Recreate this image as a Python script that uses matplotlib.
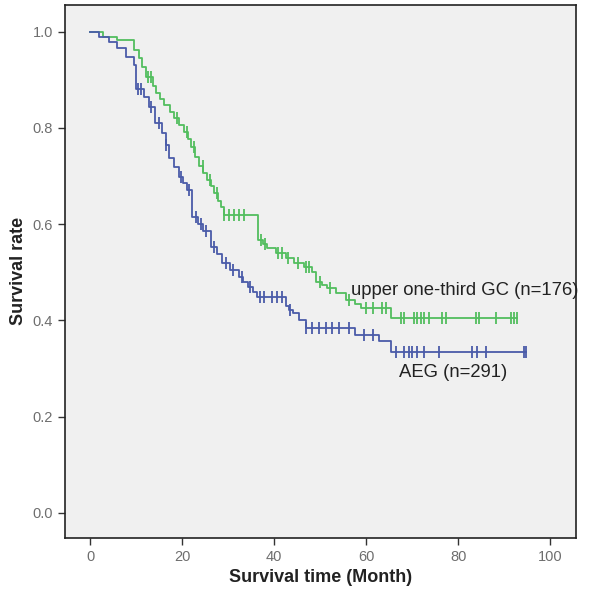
import numpy as np
import matplotlib.pyplot as plt

plt.rcParams['font.family'] = ['Liberation Sans', 'DejaVu Sans']

# Kaplan-Meier steps: (time in months, survival)
gc_times = [0, 2.8, 5.9, 9.6, 10.6, 11.3, 12.2, 13.6, 14.3, 15.2, 16.1, 17.3, 18.3, 19.4, 20.4,
            21.3, 22.0, 22.9, 23.7, 24.6, 25.4, 26.2, 27.0, 27.8, 28.5, 29.0, 36.5, 37.6, 38.5,
            40.4, 42.5, 44.3, 46.5, 48.3, 49.1, 50.5, 51.5, 53.5, 55.7, 57.5, 58.9, 65.4]
gc_surv = [1.0, 0.988, 0.983, 0.963, 0.945, 0.927, 0.905, 0.888, 0.873, 0.86, 0.848, 0.834, 0.821,
           0.806, 0.792, 0.776, 0.761, 0.74, 0.72, 0.706, 0.692, 0.679, 0.665, 0.648, 0.635, 0.62,
           0.568, 0.558, 0.55, 0.54, 0.53, 0.52, 0.51, 0.50, 0.48, 0.473, 0.468, 0.457, 0.443,
           0.435, 0.426, 0.405]
gc_end = 92.8
gc_censor = [12.5, 13.2, 18.8, 21.0, 22.6, 24.5, 26.0, 27.6, 29.1, 30.2, 31.3, 32.4, 33.5, 37.2,
             38.0, 40.9, 41.6, 43.0, 45.2, 47.0, 47.6, 50.0, 52.1, 56.3, 60.0, 61.5, 63.5, 64.3,
             67.6, 68.3, 70.4, 71.1, 72.0, 72.6, 73.7, 76.5, 77.4, 83.9, 84.6, 88.3, 91.5, 92.2, 92.8]

aeg_times = [0, 2.0, 4.1, 5.9, 7.8, 9.6, 10.0, 11.7, 12.8, 14.0, 15.7, 16.5, 17.2, 18.3, 19.3,
             20.2, 21.1, 22.2, 23.5, 24.5, 26.3, 27.5, 28.7, 30.5, 32.4, 33.3, 34.3, 35.3, 36.3,
             42.5, 43.3, 44.0, 45.4, 47.0, 57.6, 62.8, 65.4]
aeg_surv = [1.0, 0.99, 0.979, 0.967, 0.948, 0.931, 0.88, 0.864, 0.843, 0.81, 0.79, 0.765, 0.738,
            0.718, 0.699, 0.686, 0.672, 0.615, 0.60, 0.585, 0.553, 0.537, 0.52, 0.505, 0.49,
            0.48, 0.47, 0.46, 0.449, 0.43, 0.422, 0.415, 0.40, 0.385, 0.37, 0.358, 0.335]
aeg_end = 94.8
aeg_censor = [10.4, 11.0, 13.2, 15.0, 16.5, 19.8, 21.5, 23.0, 24.0, 25.2, 27.0, 29.5, 31.0, 33.0,
              34.8, 36.9, 37.8, 39.6, 40.6, 41.8, 43.5, 47.0, 48.3, 49.8, 51.3, 52.6, 54.1, 56.3,
              59.5, 61.5, 66.5, 68.3, 69.3, 70.0, 71.1, 72.6, 75.9, 83.0, 84.1, 86.1, 94.3, 94.8]

GREEN = '#52BE5E'
BLUE = '#4A5BA9'


def draw_km(ax, times, surv, end, censor, color):
    t = np.append(times, end)
    s = np.append(surv, surv[-1])
    ax.step(t, s, where='post', color=color, lw=1.3)
    idx = np.searchsorted(times, censor, side='right') - 1
    cy = np.array(surv)[idx]
    ax.plot(censor, cy, ls='none', marker='|', ms=9, mew=1.3, color=color)


fig = plt.figure(figsize=(6, 5.97), dpi=100)
ax = fig.add_axes([0.108, 0.099, 0.852, 0.893])
ax.set_facecolor('#F0F0F0')

draw_km(ax, gc_times, gc_surv, gc_end, gc_censor, GREEN)
draw_km(ax, aeg_times, aeg_surv, aeg_end, aeg_censor, BLUE)

ax.text(56.6, 0.463, 'upper one-third GC (n=176)', fontsize=13.3, color='#222222', va='center')
ax.text(67.2, 0.292, 'AEG (n=291)', fontsize=13.3, color='#222222', va='center')

ax.set_xlim(-5.5, 105.6)
ax.set_ylim(-0.052, 1.056)
ax.set_xticks([0, 20, 40, 60, 80, 100])
ax.set_yticks([0.0, 0.2, 0.4, 0.6, 0.8, 1.0])
ax.set_yticklabels(['0.0', '0.2', '0.4', '0.6', '0.8', '1.0'])
ax.tick_params(direction='out', length=5, width=1, colors='#333333', labelcolor='#6E6E6E',
               labelsize=10.5)
for sp in ax.spines.values():
    sp.set_color('#222222')
    sp.set_linewidth(1.2)

ax.set_xlabel('Survival time (Month)', fontsize=13, fontweight='bold', color='#222222')
ax.set_ylabel('Survival rate', fontsize=13, fontweight='bold', color='#222222')

fig.savefig('out.png', dpi=100)
